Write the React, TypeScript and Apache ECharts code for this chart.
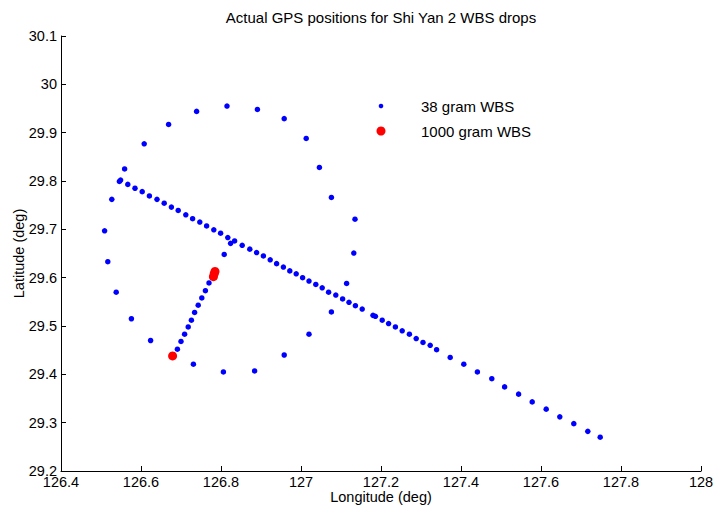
import React, { useEffect, useRef } from "react";
import * as echarts from "echarts";

// Blue (38 gram WBS) – circular pattern
const ringLon = [126.739, 126.815, 126.891, 126.958, 127.013, 127.046, 127.076, 127.135, 127.132, 127.114, 127.076, 127.02, 126.958, 126.884, 126.806, 126.731, 126.624, 126.576, 126.538, 126.517, 126.509, 126.527, 126.559, 126.608, 126.669];
const ringLat = [29.944, 29.955, 29.948, 29.929, 29.888, 29.828, 29.766, 29.721, 29.651, 29.588, 29.529, 29.483, 29.44, 29.407, 29.405, 29.421, 29.47, 29.515, 29.57, 29.633, 29.697, 29.762, 29.825, 29.877, 29.917];

// Blue – long diagonal track
const trackLon = [126.546, 126.549, 126.567, 126.585, 126.603, 126.621, 126.64, 126.658, 126.676, 126.693, 126.712, 126.729, 126.747, 126.764, 126.782, 126.799, 126.817, 126.834, 126.853, 126.872, 126.889, 126.906, 126.923, 126.939, 126.956, 126.972, 126.988, 127.004, 127.02, 127.037, 127.053, 127.069, 127.087, 127.104, 127.12, 127.136, 127.153, 127.18, 127.186, 127.203, 127.219, 127.236, 127.253, 127.271, 127.288, 127.305, 127.323, 127.339, 127.373, 127.407, 127.441, 127.477, 127.509, 127.544, 127.578, 127.613, 127.647, 127.682, 127.717, 127.748];
const trackLat = [29.799, 29.802, 29.793, 29.785, 29.778, 29.769, 29.762, 29.754, 29.746, 29.739, 29.73, 29.722, 29.715, 29.707, 29.699, 29.692, 29.683, 29.676, 29.667, 29.659, 29.652, 29.645, 29.637, 29.629, 29.622, 29.614, 29.608, 29.6, 29.593, 29.586, 29.579, 29.57, 29.564, 29.556, 29.549, 29.542, 29.535, 29.522, 29.52, 29.512, 29.505, 29.498, 29.49, 29.483, 29.474, 29.466, 29.46, 29.451, 29.435, 29.421, 29.405, 29.391, 29.374, 29.359, 29.343, 29.328, 29.312, 29.298, 29.282, 29.27];

// Blue – short track between the two red drops
const shortLon = [126.691, 126.7, 126.709, 126.718, 126.726, 126.734, 126.743, 126.752, 126.761, 126.77, 126.808, 126.824];
const shortLat = [29.452, 29.468, 29.483, 29.498, 29.512, 29.528, 29.543, 29.558, 29.573, 29.589, 29.648, 29.671];

// Red (1000 gram WBS)
const redLon = [126.679, 126.781, 126.783, 126.785];
const redLat = [29.438, 29.602, 29.608, 29.613];

const xTicks = { min: 126.4, max: 128, interval: 0.2 };
const yTicks = { min: 29.2, max: 30.1, interval: 0.1 };

const SERIES_38 = "38 gram WBS";
const SERIES_1000 = "1000 gram WBS";

const zip = (a: number[], b: number[]) => a.map((v, i) => [v, b[i]]);

const FONT = "'Liberation Sans', Arial, sans-serif";
const BLUE = "#0000ff";
const RED = "#ff0000";

export default function App() {
  const ref = useRef<HTMLDivElement>(null);
  useEffect(() => {
    if (!ref.current) return;
    const chart = echarts.init(ref.current, undefined, { renderer: "svg" });
    const blue = [...zip(ringLon, ringLat), ...zip(trackLon, trackLat), ...zip(shortLon, shortLat)];
    const red = zip(redLon, redLat);
    const axisCommon = {
      axisLine: { show: true, onZero: false, lineStyle: { color: "#000", width: 1 } },
      axisTick: { show: true, inside: true, length: 5, lineStyle: { color: "#000" } },
      splitLine: { show: false },
      nameMoveOverlap: false,
      nameTextStyle: { color: "#000", fontSize: 14.5, fontFamily: FONT },
    };
    chart.setOption({
      animation: false,
      backgroundColor: "#fff",
      textStyle: { fontFamily: FONT },
      title: {
        text: "Actual GPS positions for Shi Yan 2 WBS drops",
        left: 381,
        textAlign: "center",
        top: 10,
        padding: 0,
        textStyle: { fontSize: 15, fontWeight: "normal", color: "#000", fontFamily: FONT },
      },
      graphic: [
        { type: "circle", shape: { cx: 381, cy: 106, r: 2.3 }, style: { fill: BLUE } },
        {
          type: "text",
          x: 421,
          y: 106,
          style: { text: SERIES_38, fill: "#000", fontSize: 15, fontFamily: FONT, verticalAlign: "middle", align: "left" },
        },
        { type: "circle", shape: { cx: 381, cy: 131, r: 4.5 }, style: { fill: RED } },
        {
          type: "text",
          x: 421,
          y: 131,
          style: { text: SERIES_1000, fill: "#000", fontSize: 15, fontFamily: FONT, verticalAlign: "middle", align: "left" },
        },
      ],
      grid: { left: 61, right: 13, top: 36, bottom: 39, containLabel: false, outerBoundsMode: "none" },
      xAxis: {
        type: "value",
        ...xTicks,
        name: "Longitude (deg)",
        nameLocation: "middle",
        nameGap: 18,
        axisLabel: { color: "#000", fontSize: 14.5, margin: 3.5, fontFamily: FONT },
        ...axisCommon,
      },
      yAxis: {
        type: "value",
        ...yTicks,
        name: "Latitude (deg)",
        nameLocation: "middle",
        nameGap: 35,
        axisLabel: { color: "#000", fontSize: 14.5, margin: 4, fontFamily: FONT },
        ...axisCommon,
      },
      series: [
        {
          name: SERIES_38,
          type: "scatter",
          data: blue,
          symbol: "circle",
          symbolSize: 5.5,
          itemStyle: { color: BLUE, opacity: 1 },
        },
        {
          name: SERIES_1000,
          type: "scatter",
          data: red,
          symbol: "circle",
          symbolSize: 9,
          itemStyle: { color: RED, opacity: 1 },
        },
      ],
    });
    return () => chart.dispose();
  }, []);
  return (
    <div
      ref={ref}
      style={{ position: "fixed", left: 0, top: 0, width: 714, height: 510, background: "#fff" }}
    />
  );
}
